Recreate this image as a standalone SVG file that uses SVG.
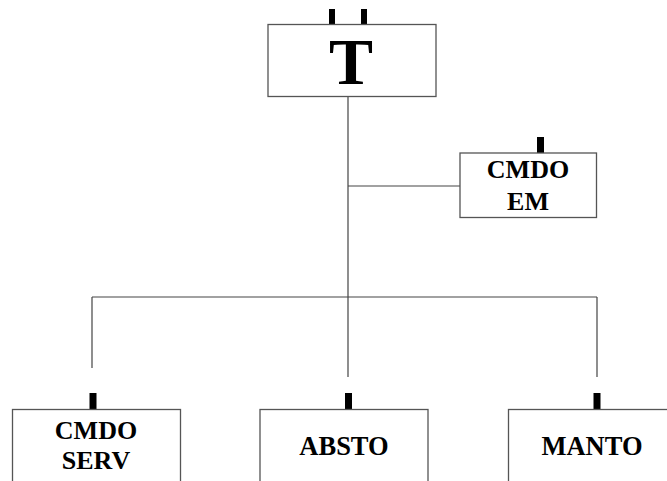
<svg xmlns="http://www.w3.org/2000/svg" width="667" height="481" viewBox="0 0 667 481">
<style>
.box{fill:#fff;stroke:#555;stroke-width:1.3}
.tick{fill:#000}
.lbl{font-family:"Liberation Serif","Times New Roman",serif;font-weight:bold;fill:#000;text-anchor:middle}
.ln{stroke:#444;stroke-width:1.2;fill:none}
</style>
<rect width="667" height="481" fill="#fff"/>
<g id="connectors">
<line class="ln" x1="348" y1="97" x2="348" y2="297"/>
<line class="ln" x1="348" y1="186" x2="460" y2="186"/>
<line class="ln" x1="92" y1="297" x2="597" y2="297"/>
<line class="ln" x1="92" y1="297" x2="92" y2="368"/>
<line class="ln" x1="348" y1="297" x2="348" y2="377"/>
<line class="ln" x1="597" y1="297" x2="597" y2="377"/>
</g>
<g id="node-T">
<rect class="tick" x="329" y="9" width="6" height="16"/>
<rect class="tick" x="361" y="9" width="6" height="16"/>
<rect class="box" x="268" y="24.5" width="168" height="72"/>
<text class="lbl" x="351" y="83.5" font-size="66">T</text>
</g>
<g id="node-cmdo-em">
<rect class="tick" x="537" y="137" width="7" height="16"/>
<rect class="box" x="460" y="153" width="136.5" height="64.5"/>
<text class="lbl" x="528" y="178" font-size="26">CMDO</text>
<text class="lbl" x="528" y="210" font-size="26">EM</text>
</g>
<g id="node-cmdo-serv">
<rect class="tick" x="89.5" y="393" width="7" height="16.5"/>
<rect class="box" x="12.5" y="409.5" width="168" height="80"/>
<text class="lbl" x="96" y="438.5" font-size="26">CMDO</text>
<text class="lbl" x="96" y="468.5" font-size="26">SERV</text>
</g>
<g id="node-absto">
<rect class="tick" x="345" y="393" width="7" height="16.5"/>
<rect class="box" x="260" y="409.5" width="168" height="80"/>
<text class="lbl" x="344" y="455" font-size="26.5">ABSTO</text>
</g>
<g id="node-manto">
<rect class="tick" x="593.5" y="393" width="7" height="16.5"/>
<rect class="box" x="508.5" y="409.5" width="168" height="80"/>
<text class="lbl" x="592" y="455" font-size="26.5">MANTO</text>
</g>
</svg>
